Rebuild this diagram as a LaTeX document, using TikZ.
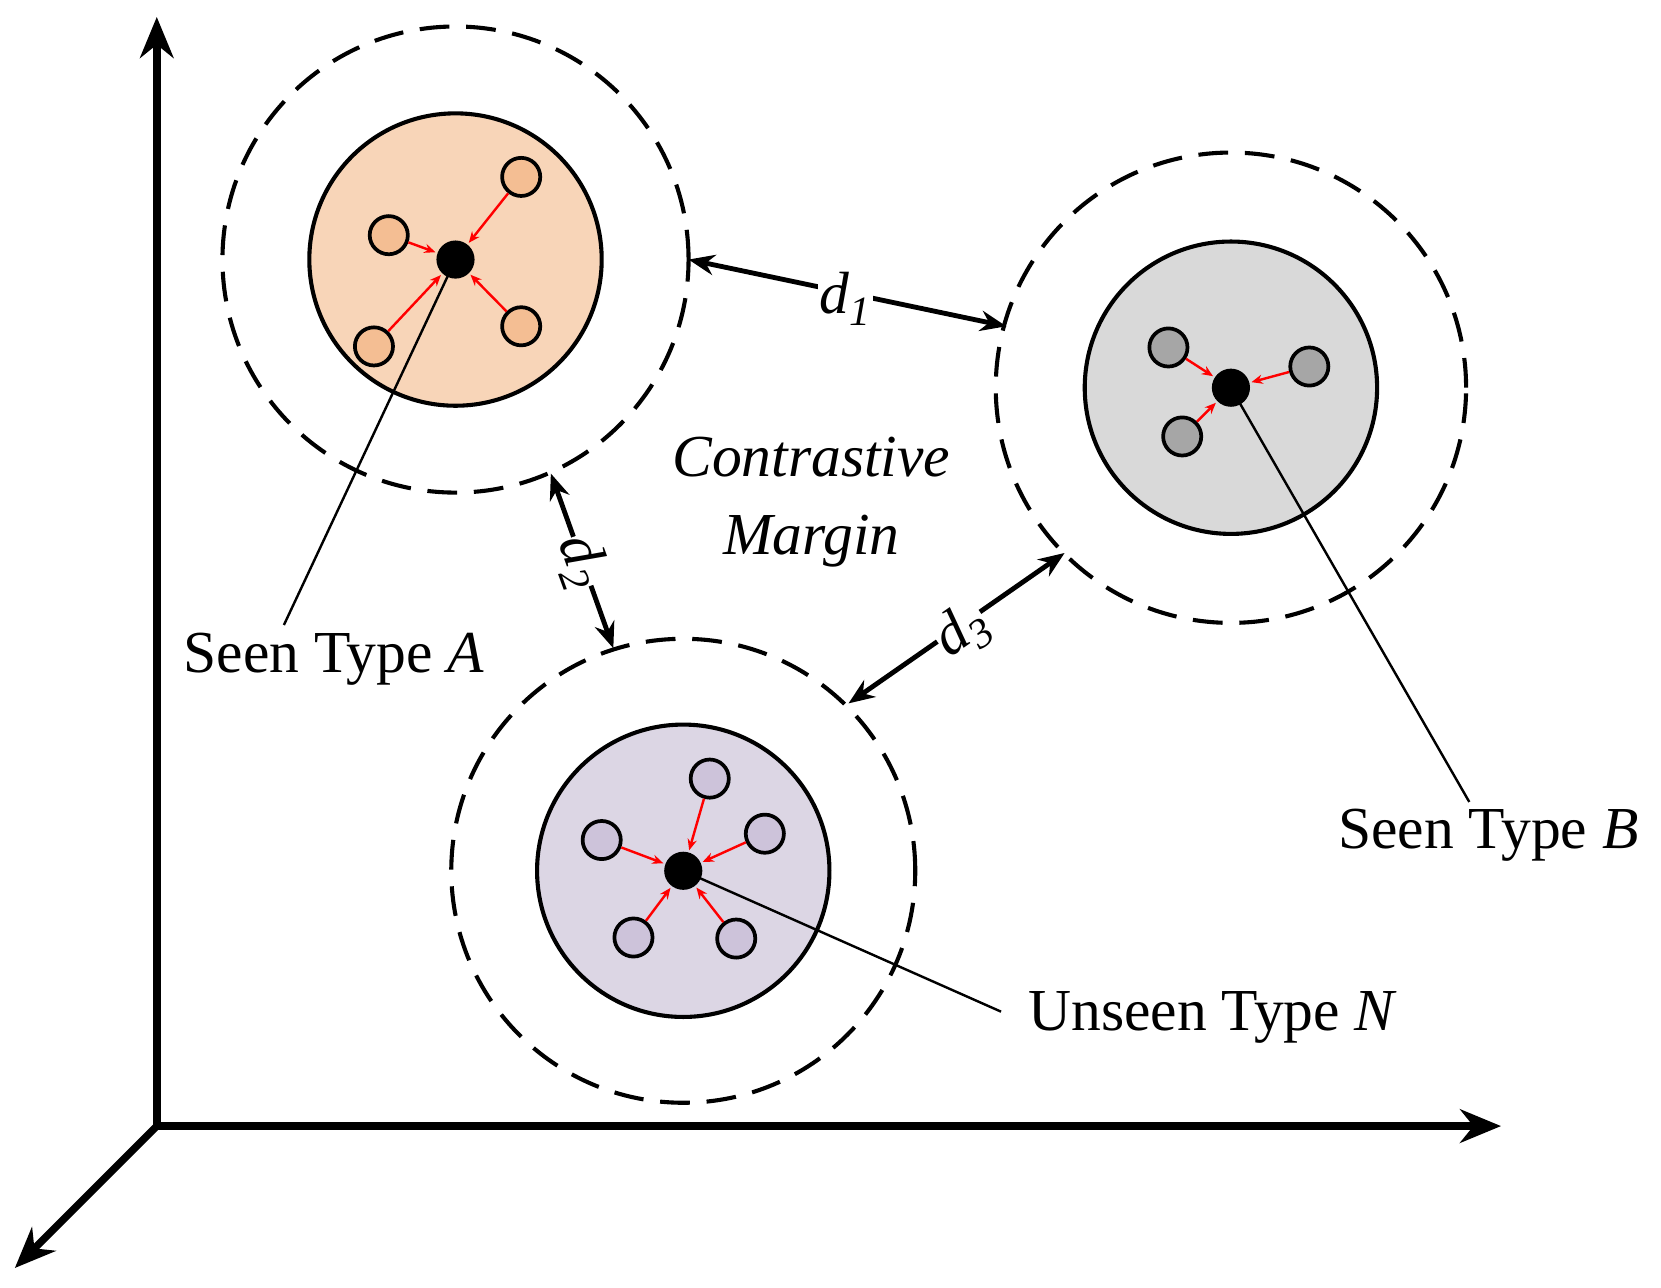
\documentclass[tikz,border=0pt]{standalone}
\usepackage{fontspec}
\setmainfont{Liberation Serif}
\usetikzlibrary{arrows.meta}
\definecolor{peach}{HTML}{F8D5B8}
\definecolor{peachs}{HTML}{F4BE93}
\definecolor{lgray}{HTML}{D9D9D9}
\definecolor{dgray}{HTML}{A6A6A6}
\definecolor{lilac}{HTML}{DCD6E4}
\definecolor{lilacs}{HTML}{CDC3DA}
\newcommand{\dsub}[1]{\textit{d}\textsubscript{\textit{#1}}}
\begin{document}
\begin{tikzpicture}[x=0.02cm,y=-0.02cm,
  inner/.style={circle,draw,line width=2.2pt,minimum size=276*0.02cm,inner sep=0},
  outer/.style={circle,draw,line width=2.2pt,dash pattern=on 16pt off 9pt,inner sep=0},
  pt/.style={circle,draw,line width=2pt,minimum size=36*0.02cm,inner sep=0},
  ctr/.style={circle,fill=black,minimum size=36*0.02cm,inner sep=0},
  red/.style={draw=red,line width=1.3pt,-{Stealth[length=6pt,width=5pt]},shorten >=1pt},
  dist/.style={line width=2.6pt,{Stealth[length=14pt,width=11pt]}-{Stealth[length=14pt,width=11pt]}},
  lead/.style={line width=1.3pt},
  lab/.style={font=\fontsize{32}{36}\selectfont}]
\useasboundingbox (0,0) rectangle (1568,1215);
% axes
\coordinate (O) at (148,1063);
\coordinate (Y) at (148,16);
\coordinate (X) at (1417,1063);
\coordinate (Z) at (14,1197);
\draw[line width=4pt,-{Stealth[length=22pt,width=18pt]}] (O)--(Y);
\draw[line width=4pt,-{Stealth[length=22pt,width=18pt]}] (O)--(X);
\draw[line width=4pt,-{Stealth[length=22pt,width=18pt]}] (O)--(Z);
% cluster A
\node[outer,minimum size=440*0.02cm] (oA) at (430,245) {};
\node[inner,fill=peach] (iA) at (430,245) {};
\node[ctr] (cA) at (430,245) {};
\foreach \n/\p in {a1/{(492,167)},a2/{(367,222)},a3/{(353,327)},a4/{(492,308)}}{
  \node[pt,fill=peachs] (\n) at \p {};
  \draw[red] (\n)--(cA);}
% cluster B
\node[outer,minimum size=444*0.02cm] (oB) at (1162,366) {};
\node[inner,fill=lgray] (iB) at (1162,366) {};
\node[ctr] (cB) at (1162,366) {};
\foreach \n/\p in {b1/{(1103,328)},b2/{(1236,346)},b3/{(1116,412)}}{
  \node[pt,fill=dgray] (\n) at \p {};
  \draw[red] (\n)--(cB);}
% cluster N
\node[outer,minimum size=438*0.02cm] (oN) at (645,822) {};
\node[inner,fill=lilac] (iN) at (645,822) {};
\node[ctr] (cN) at (645,822) {};
\foreach \n/\p in {n1/{(670,735)},n2/{(568,793)},n3/{(722,787)},n4/{(598,885)},n5/{(695,886)}}{
  \node[pt,fill=lilacs] (\n) at \p {};
  \draw[red] (\n)--(cN);}
% labels
\node[lab] (lA) at (315,622) {Seen Type \textit{A}};
\node[lab] (lB) at (1405,788) {Seen Type \textit{B}};
\node[lab] (lN) at (1145,960) {Unseen Type \textit{N}};
\coordinate (eA) at (268,590);
\coordinate (eB) at (1387,757);
\coordinate (eN) at (945,955);
\draw[lead] (cA.center)--(eA);
\draw[lead] (cB.center)--(eB);
\draw[lead] (cN.center)--(eN);
% distances
\coordinate (d1a) at (650,245); \coordinate (d1b) at (950,308);
\coordinate (d2a) at (520,447); \coordinate (d2b) at (579,612);
\coordinate (d3a) at (1005,522); \coordinate (d3b) at (801,664);
\draw[dist] (d1a)--(d1b);
\draw[dist] (d2a)--(d2b);
\draw[dist] (d3a)--(d3b);
\node[lab,fill=white,inner sep=1pt] (t1) at (798,282) {\dsub{1}};
\node[lab,fill=white,inner sep=0pt,rotate=-70] (t2) at (549,530) {\dsub{2}};
\node[lab,fill=white,inner sep=0pt,rotate=35] (t3) at (908,596) {\dsub{3}};
\node[lab,align=center] (cm) at (766,474) {\textit{Contrastive}\\[6pt]\textit{Margin}};
\end{tikzpicture}
\end{document}
